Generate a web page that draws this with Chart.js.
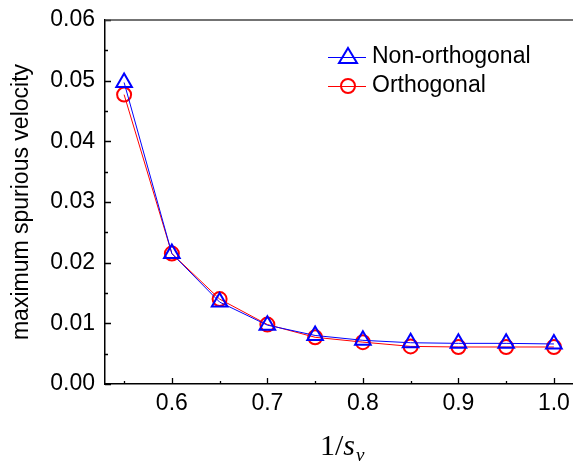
<!DOCTYPE html>
<html>
<head>
<meta charset="utf-8">
<script src="https://cdn.jsdelivr.net/npm/chart.js@4.4.1/dist/chart.umd.min.js"></script>
<style>
  html, body { margin: 0; padding: 0; background: #fff; }
  #wrap { width: 573px; height: 466px; }
</style>
</head>
<body>
<div id="wrap"><canvas id="chart" width="573" height="466"></canvas></div>
<script>
// data
const xValues = [0.55, 0.6, 0.65, 0.7, 0.75, 0.8, 0.85, 0.9, 0.95, 1.0];
const nonOrthogonal = [0.0497, 0.0215, 0.0135, 0.0097, 0.0080, 0.0072, 0.0068, 0.0067, 0.0067, 0.0066];
const orthogonal = [0.0477, 0.0215, 0.0140, 0.0098, 0.0077, 0.0069, 0.0062, 0.0061, 0.0061, 0.0061];
const xTicks = [0.6, 0.7, 0.8, 0.9, 1.0];
const xMinorTicks = [0.55, 0.65, 0.75, 0.85, 0.95];
const yTicks = [0, 0.01, 0.02, 0.03, 0.04, 0.05, 0.06];
const yMinorTicks = [0.005, 0.015, 0.025, 0.035, 0.045, 0.055];
const seriesNames = ['Non-orthogonal', 'Orthogonal'];

const FONT = '"Liberation Sans", Arial, sans-serif';
const toPoints = (ys) => xValues.map((x, i) => ({ x: x, y: ys[i] }));

// ticks pointing into the plot, x tick labels, top frame line, axis title and legend
const decorations = {
  id: 'decorations',
  afterDraw(chart) {
    const ctx = chart.ctx;
    const area = chart.chartArea;
    const xs = chart.scales.x;
    const ys = chart.scales.y;
    ctx.save();
    ctx.strokeStyle = '#000';
    ctx.lineWidth = 1.3;
    ctx.beginPath();
    xTicks.forEach(v => {
      const px = Math.round(xs.getPixelForValue(v)) + 0.5;
      ctx.moveTo(px, area.bottom); ctx.lineTo(px, area.bottom - 6);
    });
    xMinorTicks.forEach(v => {
      const px = Math.round(xs.getPixelForValue(v)) + 0.5;
      ctx.moveTo(px, area.bottom); ctx.lineTo(px, area.bottom - 3);
    });
    yTicks.forEach(v => {
      const py = Math.round(ys.getPixelForValue(v)) + 0.5;
      ctx.moveTo(area.left, py); ctx.lineTo(area.left + 6, py);
    });
    yMinorTicks.forEach(v => {
      const py = Math.round(ys.getPixelForValue(v)) + 0.5;
      ctx.moveTo(area.left, py); ctx.lineTo(area.left + 3, py);
    });
    ctx.stroke();

    // x tick labels
    ctx.fillStyle = '#000';
    ctx.font = '23px ' + FONT;
    ctx.textAlign = 'center';
    ctx.textBaseline = 'middle';
    xTicks.forEach(v => {
      ctx.fillText(v.toFixed(1), xs.getPixelForValue(v), area.bottom + 20);
    });

    // top frame
    ctx.strokeStyle = '#444';
    ctx.lineWidth = 1.5;
    ctx.beginPath();
    ctx.moveTo(area.left, area.top);
    ctx.lineTo(area.right, area.top);
    ctx.stroke();

    // x axis title 1/s_v
    ctx.textBaseline = 'alphabetic';
    ctx.textAlign = 'left';
    ctx.font = '30px "Liberation Serif", serif';
    const tx = 320;
    const ty = 455;
    ctx.fillText('1/', tx, ty);
    const w1 = ctx.measureText('1/').width;
    ctx.font = 'italic 30px "Liberation Serif", serif';
    ctx.fillText('s', tx + w1, ty);
    const w2 = ctx.measureText('s').width;
    ctx.font = 'italic 19px "Liberation Serif", serif';
    ctx.fillText('\u03BD', tx + w1 + w2 + 1, ty + 6);

    // legend
    const rows = [
      { name: seriesNames[0], color: '#0000ff', shape: 'triangle', y: 57 },
      { name: seriesNames[1], color: '#ff0000', shape: 'circle', y: 86 }
    ];
    rows.forEach(r => {
      ctx.strokeStyle = r.color;
      ctx.lineWidth = 1;
      ctx.beginPath();
      ctx.moveTo(328, r.y + 0.5);
      ctx.lineTo(366, r.y + 0.5);
      ctx.stroke();
      ctx.lineWidth = 2;
      ctx.beginPath();
      if (r.shape === 'triangle') {
        ctx.moveTo(348, r.y - 9);
        ctx.lineTo(357, r.y + 6);
        ctx.lineTo(339, r.y + 6);
        ctx.closePath();
      } else {
        ctx.arc(348, r.y, 7, 0, Math.PI * 2);
      }
      ctx.stroke();
      ctx.fillStyle = '#000';
      ctx.font = '23px ' + FONT;
      ctx.textBaseline = 'middle';
      ctx.fillText(r.name, 372, r.y);
    });
    ctx.restore();
  }
};

new Chart(document.getElementById('chart'), {
  type: 'line',
  data: {
    datasets: [
      {
        label: seriesNames[0],
        data: toPoints(nonOrthogonal),
        borderColor: '#0000ff',
        backgroundColor: 'rgba(0,0,0,0)',
        borderWidth: 1,
        pointStyle: 'triangle',
        pointRadius: 9,
        pointBorderWidth: 2,
        pointBorderColor: '#0000ff',
        pointBackgroundColor: 'rgba(0,0,0,0)',
        tension: 0
      },
      {
        label: seriesNames[1],
        data: toPoints(orthogonal),
        borderColor: '#ff0000',
        backgroundColor: 'rgba(0,0,0,0)',
        borderWidth: 1,
        pointStyle: 'circle',
        pointRadius: 7,
        pointBorderWidth: 2,
        pointBorderColor: '#ff0000',
        pointBackgroundColor: 'rgba(0,0,0,0)',
        tension: 0
      }
    ]
  },
  options: {
    responsive: false,
    animation: false,
    clip: false,
    layout: { autoPadding: false, padding: { top: 20, right: 0, left: 0, bottom: 0 } },
    plugins: {
      legend: { display: false },
      tooltip: { enabled: false }
    },
    scales: {
      x: {
        type: 'linear',
        min: 0.53,
        max: 1.02,
        afterBuildTicks: (scale) => { scale.ticks = xTicks.map(v => ({ value: v })); },
        afterFit: (scale) => { scale.height = 82; },
        grid: { display: false, drawTicks: false },
        border: { display: true, color: '#000', width: 1.5 },
        ticks: { display: false }
      },
      y: {
        min: 0,
        max: 0.06,
        afterBuildTicks: (scale) => { scale.ticks = yTicks.map(v => ({ value: v })); },
        afterFit: (scale) => {
          scale.width = 105;
          scale.paddingTop = 0;
          scale.paddingBottom = 0;
        },
        grid: { display: false, drawTicks: false },
        border: { display: true, color: '#000', width: 1.5 },
        title: {
          display: true,
          text: 'maximum spurious velocity',
          color: '#000',
          font: { family: FONT, size: 23 },
          padding: { top: 8, bottom: 0 }
        },
        ticks: {
          padding: 10,
          color: '#000',
          font: { family: FONT, size: 23 },
          callback: (v) => Number(v).toFixed(2)
        }
      }
    }
  },
  plugins: [decorations]
});
</script>
</body>
</html>
